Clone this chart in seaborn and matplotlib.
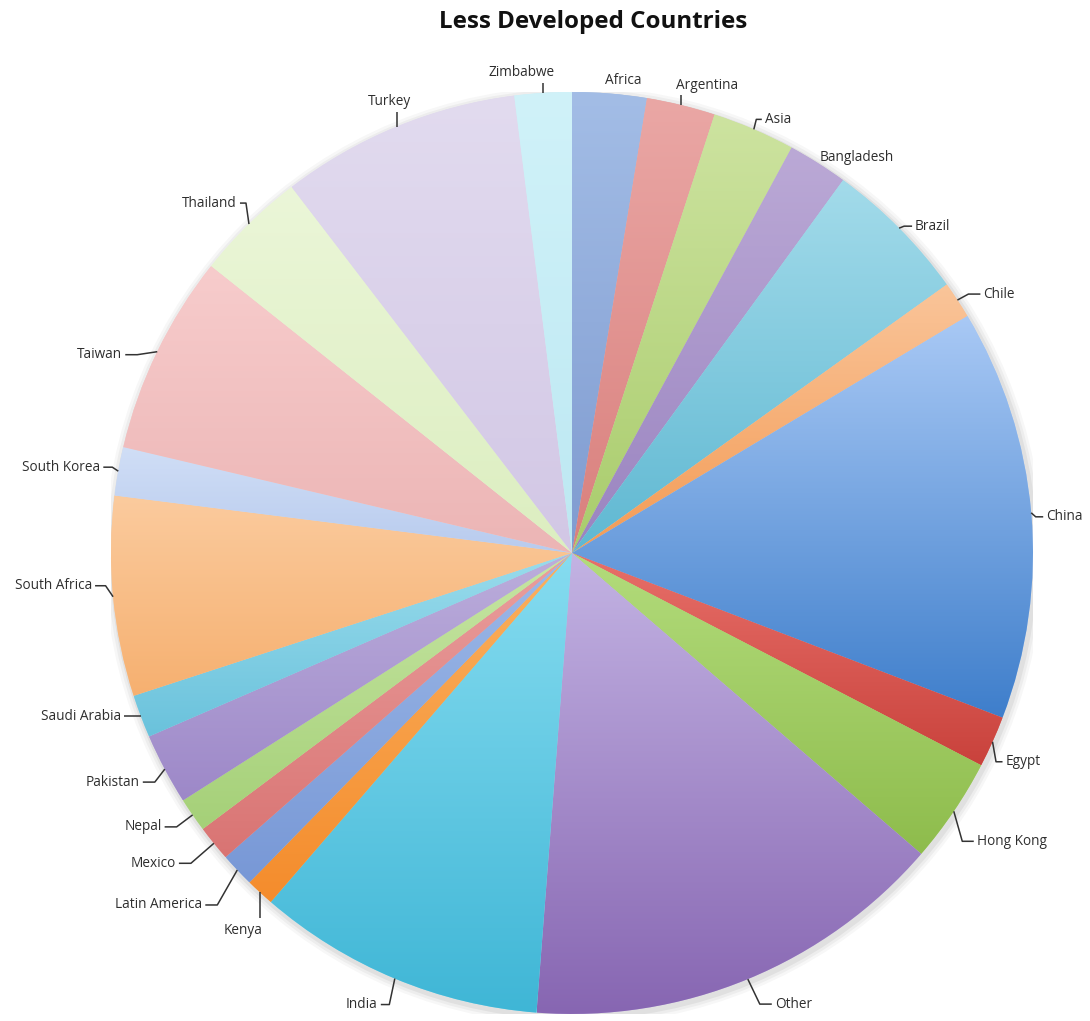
import numpy as np
import matplotlib
matplotlib.use("Agg")
import matplotlib.pyplot as plt
import seaborn as sns
from matplotlib.colors import to_rgb

# shares of the pie (clockwise from 12 o'clock)
countries = ["Africa", "Argentina", "Asia", "Bangladesh", "Brazil", "Chile",
             "China", "Egypt", "Hong Kong", "Other", "India", "Kenya",
             "Latin America", "Mexico", "Nepal", "Pakistan", "Saudi Arabia",
             "South Africa", "South Korea", "Taiwan", "Thailand", "Turkey",
             "Zimbabwe"]
shares = [2.6, 2.4, 2.9, 2.1, 5.1, 1.3,
          14.4, 1.8, 3.7, 14.9, 10.1, 1.0,
          1.2, 1.25, 1.2, 2.5, 1.5,
          7.0, 1.7, 7.0, 3.9, 8.4,
          2.0]

# top and bottom colour of each slice's gradient
top_colors = ["#a3bde6", "#eaa7a5", "#cde3a0", "#bba9d6", "#a3dbea", "#fac59a",
              "#a9c9f5", "#e8706a", "#b3dc7c", "#c3b3e3", "#86dcf0", "#fbb160",
              "#9db9e8", "#ea9f9e", "#c7e6a4", "#bcaedc", "#9adcec",
              "#fbcb9e", "#d0def6", "#f7cccc", "#ebf6d8", "#e2dbef", "#d0f2f9"]
bottom_colors = ["#7f9bd0", "#d9807d", "#a9cc6c", "#9a84c0", "#5fb8d2", "#f39b55",
                 "#3e7ecb", "#c9423c", "#8ebc4c", "#8766b2", "#3fb6d6", "#f48c2c",
                 "#7898d6", "#d97473", "#a5d078", "#9d88c8", "#6ac2dc",
                 "#f6b070", "#b8cbee", "#ecb5b5", "#dceec0", "#d2c7e5", "#bde8f2"]

# label placement: pixel offset of the text from the slice's outer midpoint,
# alignment and leader-line type
label_layout = {
    "Africa": (14, -13, 'center', 'none'),
    "Argentina": (26, -20, 'center', 'vert'),
    "Asia": (11, -10, 'left', 'side'),
    "Bangladesh": (2, -6, 'left', 'none'),
    "Brazil": (16, -2, 'left', 'side'),
    "Chile": (26, -6, 'left', 'side'),
    "China": (15, 4, 'left', 'side'),
    "Egypt": (13, 20, 'left', 'side'),
    "Hong Kong": (23, 30, 'left', 'side'),
    "Other": (27, 25, 'left', 'side'),
    "India": (-17, 26, 'right', 'side'),
    "Kenya": (-17, 38, 'center', 'vert'),
    "Latin America": (-35, 35, 'right', 'side'),
    "Mexico": (-38, 20, 'right', 'side'),
    "Nepal": (-31, 12, 'right', 'side'),
    "Pakistan": (-25, 13, 'right', 'side'),
    "Saudi Arabia": (-20, 0, 'right', 'side'),
    "South Africa": (-21, -11, 'right', 'side'),
    "South Korea": (-18, -4, 'right', 'side'),
    "Taiwan": (-35, 3, 'right', 'side'),
    "Thailand": (-12, -21, 'right', 'side'),
    "Turkey": (-7, -25, 'center', 'vert'),
    "Zimbabwe": (-21, -20, 'center', 'vert'),
}


def main():
    sns.set_theme(style="white")
    plt.rcParams['font.family'] = ['Open Sans', 'DejaVu Sans']

    W, H = 1090, 1021
    R = 461.0  # pie radius in pixels
    fig = plt.figure(figsize=(W / 100, H / 100), dpi=100)
    ax = fig.add_axes([0.1018, 0.0069, 0.8459, 0.903])

    wedges, _ = ax.pie(shares, startangle=90, counterclock=False, radius=1,
                       colors=top_colors, wedgeprops=dict(linewidth=0))

    # soft shadow under the pie
    for k, a in enumerate([0.05, 0.04, 0.03]):
        sh = plt.Circle((0.004, -0.006), 1.0 + 0.006 * (k + 1), color="#000000",
                        alpha=a, zorder=0, lw=0)
        ax.add_patch(sh)

    # vertical gradient inside every slice
    for w, c_top, c_bot in zip(wedges, top_colors, bottom_colors):
        bb = w.get_path().get_extents()
        t = np.linspace(0, 1, 256)[:, None, None]
        grad = (1 - t) * np.array(to_rgb(c_top)) + t * np.array(to_rgb(c_bot))
        im = ax.imshow(grad, extent=(bb.x0, bb.x1, bb.y0, bb.y1), origin='upper',
                       aspect='auto', zorder=2, interpolation='bilinear')
        im.set_clip_path(w)

    # labels with leader lines
    line_kw = dict(color="#333333", lw=1.1, zorder=5, solid_capstyle='butt',
                   clip_on=False)
    for w, name in zip(wedges, countries):
        theta = np.deg2rad((w.theta1 + w.theta2) / 2)
        ex, ey = np.cos(theta), np.sin(theta)
        dx, dy, ha, leader = label_layout[name]
        tx, ty = ex + dx / R, ey - dy / R
        ax.text(tx, ty, name, ha=ha, va='center', fontsize=9.8,
                color="#2e2e2e", zorder=5, clip_on=False)
        if leader == 'side':
            sgn = 1 if ha == 'left' else -1
            gap = 3 / R
            stub = min(12, 0.5 * abs(dx)) / R
            kx = tx - sgn * (gap + stub)
            ax.plot([ex, kx, tx - sgn * gap], [ey, ty, ty], **line_kw)
        elif leader == 'vert':
            half = (12 if name == "Kenya" else 10) / R
            # stop the line just short of the text, on the pie's side
            y_end = ty + half if ty < ey else ty - half
            ax.plot([ex, ex], [ey, y_end], **line_kw)

    ax.set_xlim(-1, 1)
    ax.set_ylim(-1, 1)
    ax.set_aspect('equal')
    ax.axis('off')

    fig.text(593 / W, 1 - 22 / H, "Less Developed Countries", ha='center', va='center',
             fontsize=17.4, fontweight='bold', color="#111111")

    fig.savefig("out.png", dpi=100)
    plt.close(fig)


if __name__ == "__main__":
    main()
